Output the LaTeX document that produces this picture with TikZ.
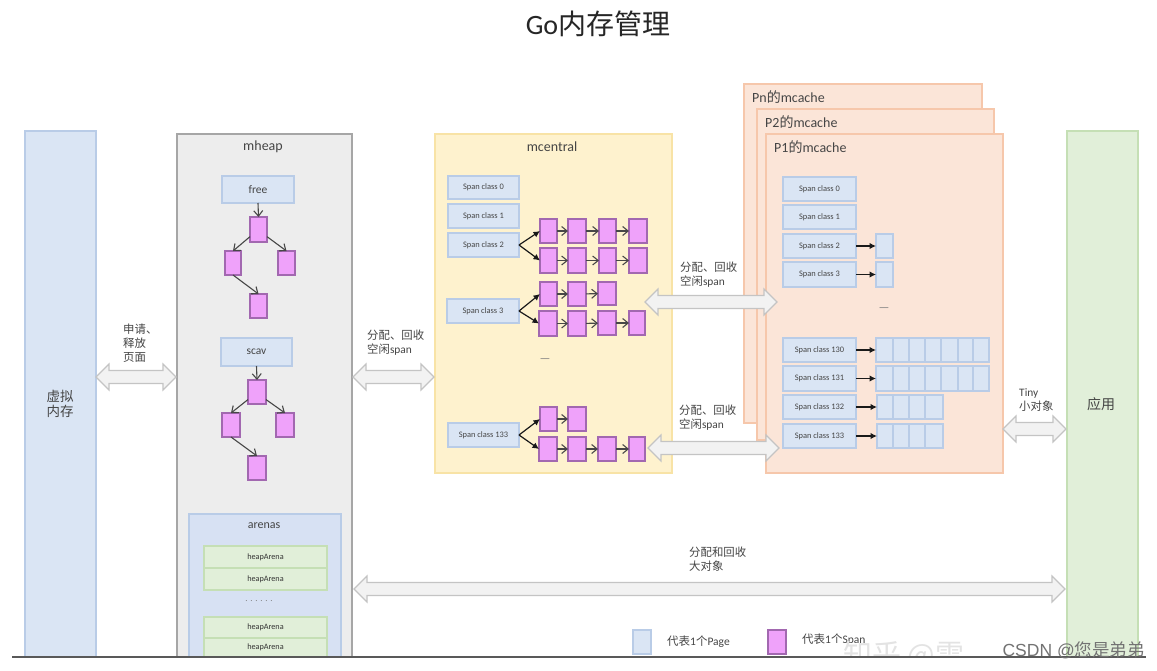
\documentclass[tikz,border=0pt]{standalone}
\usepackage{fontspec}
\setmainfont{Carlito}
\newfontfamily\cjk{Noto Sans CJK SC}
\newfontfamily\wmfont{Liberation Sans}
\usetikzlibrary{arrows.meta}
\definecolor{txt}{HTML}{454545}
\definecolor{blueF}{HTML}{DAE5F4}
\definecolor{blueD}{HTML}{B9CCE7}
\definecolor{pinkF}{HTML}{EFA2FA}
\definecolor{pinkD}{HTML}{A268B0}
\definecolor{greenF}{HTML}{E1EFD9}
\definecolor{greenD}{HTML}{C5DFB5}
\definecolor{yellowF}{HTML}{FEF2CE}
\definecolor{yellowD}{HTML}{F8E3A6}
\definecolor{orangeF}{HTML}{FBE5D8}
\definecolor{orangeD}{HTML}{F6C7AB}
\definecolor{grayF}{HTML}{EDEDED}
\definecolor{grayD}{HTML}{A6A6A6}
\definecolor{arrF}{HTML}{F2F2F2}
\definecolor{arrD}{HTML}{C4C4C4}
\definecolor{arenaF}{HTML}{D7E1F3}
\tikzset{
  boxbase/.style={draw,line width=1.1pt,inner sep=0pt,outer sep=0pt,text=txt},
  pageblue/.style={boxbase,fill=blueF,draw=blueD},
  spanbox/.style={pageblue,font=\fontsize{8.4}{10}\selectfont},
  keybox/.style={pageblue,font=\fontsize{11.5}{13}\selectfont},
  pinkbox/.style={boxbase,fill=pinkF,draw=pinkD},
  arenabox/.style={boxbase,fill=greenF,draw=greenD,text=black!80,font=\fontsize{8.2}{10}\selectfont},
  sidebox/.style={boxbase,fill=blueF,draw=blueD},
  appbox/.style={boxbase,fill=greenF,draw=greenD},
  heapbox/.style={boxbase,fill=grayF,draw=grayD},
  arenasbox/.style={boxbase,fill=arenaF,draw=blueD},
  centralbox/.style={boxbase,fill=yellowF,draw=yellowD},
  cachebox/.style={boxbase,fill=orangeF,draw=orangeD},
  title/.style={font=\fontsize{14}{16}\selectfont,text=txt,inner sep=0pt},
  lbl/.style={font=\fontsize{11.4}{13.8}\selectfont,text=txt,inner sep=0pt,align=left,anchor=west},
  bigarrow/.style={draw=arrD,fill=arrF,line width=1.2pt,line join=miter},
  link/.style={draw=black!72,line width=1.1pt,-{Straight Barb[length=5.5pt,width=9pt]}},
  solidlink/.style={draw=black!90,line width=1.2pt,-{Latex[length=6.5pt,width=6.5pt]}},
  dotted label/.style={font=\fontsize{12}{12}\selectfont,text=gray,inner sep=0pt}
}
\newcommand\Bx[7]{%
  \pgfmathsetmacro\bw{#5-#3}\pgfmathsetmacro\bh{#6-#4}%
  \pgfmathsetmacro\bcx{(#3+#5)/2}\pgfmathsetmacro\bcy{(#4+#6)/2}%
  \node[#1,minimum width=\bw pt,minimum height=\bh pt] (#2) at (\bcx,\bcy) {#7};}
% double block arrow: x0, x1, y
\newcommand\BigArrow[3]{%
  \draw[bigarrow] (#1,#3) -- (#1+13,#3-13) -- (#1+13,#3-6.5) -- (#2-13,#3-6.5) -- (#2-13,#3-13)
    -- (#2,#3) -- (#2-13,#3+13) -- (#2-13,#3+6.5) -- (#1+13,#3+6.5) -- (#1+13,#3+13) -- cycle;}
\begin{document}
\begin{tikzpicture}[x=1pt,y=-1pt]
\useasboundingbox[fill=white] (0,0) rectangle (1157,670);
\node[font=\fontsize{28}{30}\selectfont,text=black!85,inner sep=0pt] (ttl) at (598,24) {Go{\cjk 内存管理}};
% side columns
\Bx{sidebox}{vm}{25}{131}{96}{657}{}
\node[font=\fontsize{13.5}{15.5}\selectfont\cjk,text=txt,align=center,inner sep=0pt] (vmt) at (60,404) {虚拟\\内存};
\Bx{appbox}{app}{1067}{131}{1138}{657}{}
\node[font=\fontsize{14}{16}\selectfont\cjk,text=txt,inner sep=0pt] (appt) at (1101,404) {应用};
% mheap
\Bx{heapbox}{heap}{177}{134}{352}{657}{}
\node[title] (heapt) at (263,147) {mheap};
\Bx{keybox}{free}{222}{176}{294}{203}{free}
\Bx{pinkbox}{fa}{250}{217}{267}{242}{}
\Bx{pinkbox}{fb}{225}{251}{241}{275}{}
\Bx{pinkbox}{fc}{278}{251}{295}{275}{}
\Bx{pinkbox}{fd}{250}{294}{267}{318}{}
\draw[link] (free.south) -- (fa.north);
\draw[link] (fa.220) -- (fb.north);
\draw[link] (fa.-40) -- (fc.north);
\draw[link] (fb.south) -- (fd.north);
\Bx{keybox}{scav}{221}{338}{292}{366}{scav}
\Bx{pinkbox}{sa}{248}{380}{266}{404}{}
\Bx{pinkbox}{sb}{222}{413}{240}{437}{}
\Bx{pinkbox}{sc}{276}{413}{294}{437}{}
\Bx{pinkbox}{sd}{248}{456}{266}{480}{}
\draw[link] (scav.south) -- (sa.north);
\draw[link] (sa.220) -- (sb.north);
\draw[link] (sa.-40) -- (sc.north);
\draw[link] (sb.south) -- (sd.north);
% arenas
\Bx{arenasbox}{arenas}{189}{514}{341}{657}{}
\node[title,font=\fontsize{12}{14}\selectfont] (arenast) at (264,526) {arenas};
\Bx{arenabox}{ha}{204}{546}{327}{568}{heapArena}
\Bx{arenabox}{hb}{204}{568}{327}{590}{heapArena}
\node[dotted label,font=\fontsize{9}{10}\selectfont] (hd) at (259,601) {. . . . . .};
\Bx{arenabox}{hc}{204}{617}{327}{638}{heapArena}
\Bx{arenabox}{he}{204}{638}{327}{657}{heapArena}
% mcentral
\Bx{centralbox}{central}{435}{134}{672}{473}{}
\node[title] (centralt) at (552,147) {mcentral};
\Bx{spanbox}{c0}{448}{176}{519}{199}{Span class 0}
\Bx{spanbox}{c1}{448}{204}{519}{228}{Span class 1}
\Bx{spanbox}{c2}{448}{233}{519}{257}{Span class 2}
\Bx{spanbox}{c3}{447}{299}{519}{323}{Span class 3}
\Bx{spanbox}{c133}{448}{423}{519}{447}{Span class 133}
\Bx{pinkbox}{ra}{540}{219}{557}{243}{}
\Bx{pinkbox}{rb}{568}{219}{586}{243}{}
\Bx{pinkbox}{rc}{599}{219}{616}{243}{}
\Bx{pinkbox}{rd}{629}{219}{647}{243}{}
\Bx{pinkbox}{qa}{540}{248}{557}{273}{}
\Bx{pinkbox}{qb}{568}{248}{586}{273}{}
\Bx{pinkbox}{qc}{599}{248}{616}{273}{}
\Bx{pinkbox}{qd}{629}{248}{647}{273}{}
\Bx{pinkbox}{ta}{540}{282}{557}{306}{}
\Bx{pinkbox}{tb}{568}{282}{586}{306}{}
\Bx{pinkbox}{tc}{598}{282}{616}{305}{}
\Bx{pinkbox}{ua}{539}{311}{557}{336}{}
\Bx{pinkbox}{ub}{568}{311}{586}{336}{}
\Bx{pinkbox}{uc}{598}{311}{616}{335}{}
\Bx{pinkbox}{ud}{629}{311}{645}{335}{}
\Bx{pinkbox}{va}{540}{407}{557}{431}{}
\Bx{pinkbox}{vb}{568}{407}{586}{431}{}
\Bx{pinkbox}{wa}{539}{437}{557}{461}{}
\Bx{pinkbox}{wb}{568}{437}{586}{461}{}
\Bx{pinkbox}{wc}{598}{437}{616}{461}{}
\Bx{pinkbox}{wd}{629}{437}{645}{461}{}
\draw[solidlink] (c2.east) -- (ra.west);
\draw[solidlink] (c2.east) -- (qa.west);
\draw[solidlink] (c3.east) -- (ta.west);
\draw[solidlink] (c3.east) -- (ua.west);
\draw[solidlink] (c133.east) -- (va.west);
\draw[solidlink] (c133.east) -- (wa.west);
\draw[link] (ra) -- (rb);
\draw[link] (rb) -- (rc);
\draw[link] (rc) -- (rd);
\draw[link] (qa) -- (qb);
\draw[link] (qb) -- (qc);
\draw[link] (qc) -- (qd);
\draw[link] (ta) -- (tb);
\draw[link] (tb) -- (tc);
\draw[link] (ua) -- (ub);
\draw[link] (ub) -- (uc);
\draw[link] (uc) -- (ud);
\draw[link] (va) -- (vb);
\draw[link] (wa) -- (wb);
\draw[link] (wb) -- (wc);
\draw[link] (wc) -- (wd);
\node[dotted label] (cd) at (545,361) {—};
% mcache stack
\Bx{cachebox}{pn}{744}{84}{982}{423}{}
\node[title,anchor=west] (pnt) at (752,97) {Pn{\cjk 的}mcache};
\Bx{cachebox}{p2}{757}{109}{994}{440}{}
\node[title,anchor=west] (p2t) at (765,122) {P2{\cjk 的}mcache};
\Bx{cachebox}{p1}{766}{134}{1003}{473}{}
\node[title,anchor=west] (p1t) at (774,147) {P1{\cjk 的}mcache};
\Bx{spanbox}{m0}{783}{177}{856}{201}{Span class 0}
\Bx{spanbox}{m1}{783}{205}{856}{229}{Span class 1}
\Bx{spanbox}{m2}{783}{234}{856}{258}{Span class 2}
\Bx{spanbox}{m3}{783}{262}{856}{287}{Span class 3}
\Bx{spanbox}{m130}{783}{338}{856}{362}{Span class 130}
\Bx{spanbox}{m131}{783}{366}{856}{391}{Span class 131}
\Bx{spanbox}{m132}{783}{395}{856}{419}{Span class 132}
\Bx{spanbox}{m133}{783}{424}{856}{448}{Span class 133}
\Bx{pageblue}{g2}{876}{234}{893}{258}{}
\Bx{pageblue}{g3}{876}{262}{893}{287}{}
\foreach \a/\b [count=\i] in {876/893,893/909,909/925,925/941,941/958,958/973,973/989}{
  \Bx{pageblue}{h\i}{\a}{338}{\b}{362}{}
  \Bx{pageblue}{i\i}{\a}{366}{\b}{391}{}
}
\foreach \a/\b [count=\i] in {877/893,893/909,909/925,925/943}{
  \Bx{pageblue}{j\i}{\a}{395}{\b}{419}{}
  \Bx{pageblue}{k\i}{\a}{424}{\b}{448}{}
}
\draw[solidlink] (m2.east) -- (g2.west);
\draw[solidlink] (m3.east) -- (g3.west);
\draw[solidlink] (m130.east) -- (h1.west);
\draw[solidlink] (m131.east) -- (i1.west);
\draw[solidlink] (m132.east) -- (j1.west);
\draw[solidlink] (m133.east) -- (k1.west);
\node[dotted label] (md) at (884,310) {—};
% block arrows
\BigArrow{96}{176}{377}
\BigArrow{353}{434}{377}
\BigArrow{645}{777}{302}
\BigArrow{648}{779}{448}
\BigArrow{1003}{1066}{429}
\BigArrow{354}{1065}{589}
% labels
\node[lbl] (l1) at (123,343) {\cjk 申请、\\\cjk 释放\\\cjk 页面};
\node[lbl] (l2) at (367,343) {{\cjk 分配、回收}\\{\cjk 空闲}span};
\node[lbl] (l3) at (680,275) {{\cjk 分配、回收}\\{\cjk 空闲}span};
\node[lbl] (l4) at (679,417.5) {{\cjk 分配、回收}\\{\cjk 空闲}span};
\node[lbl] (l5) at (1019,400) {Tiny\\{\cjk 小对象}};
\node[lbl] (l6) at (689,559.5) {\cjk 分配和回收\\\cjk 大对象};
% legend
\Bx{pageblue}{lg1}{633}{630}{651}{654}{}
\node[lbl,font=\fontsize{11.5}{13}\selectfont] (lg1t) at (667,642) {{\cjk 代表}1{\cjk 个}Page};
\Bx{pinkbox}{lg2}{768}{630}{786}{654}{}
\node[lbl,font=\fontsize{11.5}{13}\selectfont] (lg2t) at (802,640) {{\cjk 代表}1{\cjk 个}Span};
% watermark
\fill[white] (836,643) rectangle (872,657);
\begin{scope}
\clip (0,0) rectangle (1157,657);
\node[font=\fontsize{29}{30}\selectfont\cjk,text=black!11,inner sep=0pt,anchor=west] (wm1) at (843,656) {知乎 @雲};
\end{scope}
\draw[line width=1.2pt,draw=black!65] (12,657) -- (1146,657);
\node[font=\fontsize{17.5}{20}\selectfont\wmfont,text=black!55,inner sep=0pt,anchor=east] (wm2) at (1145,650) {CSDN @{\cjk 您是弟弟}};
\end{tikzpicture}
\end{document}
